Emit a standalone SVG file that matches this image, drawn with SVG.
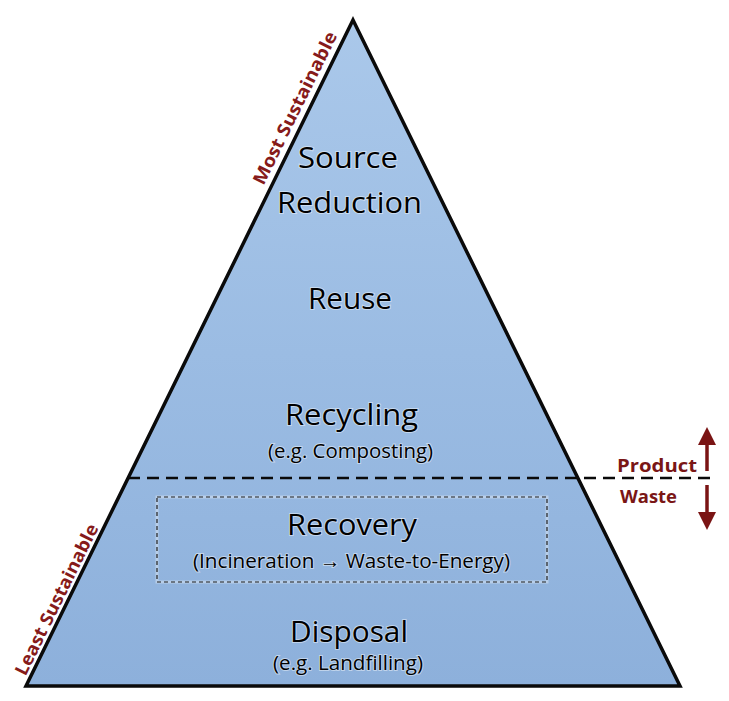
<svg xmlns="http://www.w3.org/2000/svg" width="729" height="701" viewBox="0 0 729 701">
  <defs>
    <linearGradient id="fillGrad" x1="0" y1="0" x2="0" y2="1">
      <stop offset="0" stop-color="#aac8ea"/>
      <stop offset="0.5" stop-color="#9bbce3"/>
      <stop offset="1" stop-color="#8db0db"/>
    </linearGradient>
    <style>
      .main { font-family: "Open Sans", "Noto Sans", sans-serif; font-size: 30px; fill: #000; text-anchor: middle; stroke: #ffffff; stroke-width: 2; stroke-opacity: 0.45; paint-order: stroke; }
      .sub { font-family: "Open Sans", "Noto Sans", sans-serif; font-size: 20px; fill: #000; text-anchor: middle; stroke: #ffffff; stroke-width: 2; stroke-opacity: 0.45; paint-order: stroke; }
      .side { font-family: "Open Sans", "Noto Sans", sans-serif; font-size: 18px; font-weight: bold; fill: #861b1b; text-anchor: middle; stroke: #ffffff; stroke-width: 3; stroke-opacity: 0.8; paint-order: stroke; }
      .pw { font-family: "Open Sans", "Noto Sans", sans-serif; font-size: 18px; font-weight: bold; fill: #7a1616; stroke: #ffffff; stroke-width: 3; stroke-opacity: 0.8; paint-order: stroke; }
      .arrow { stroke: #7a1414; stroke-width: 3.5; fill: none; }
      .head { fill: #7a1414; }
    </style>
  </defs>
  <rect x="0" y="0" width="729" height="701" fill="#ffffff"/>

  <g id="pyramid">
    <polygon points="353,20 680,686 26,686" fill="url(#fillGrad)" stroke="#0a0a0a" stroke-width="3.5" stroke-linejoin="miter"/>
  </g>

  <g id="divider">
    <line x1="128" y1="478" x2="714" y2="478" stroke="#0a0a0a" stroke-width="2.5" stroke-dasharray="12 7"/>
  </g>

  <g id="node-source-reduction">
    <text class="main" x="348" y="168" textLength="100" lengthAdjust="spacingAndGlyphs">Source</text>
    <text class="main" x="349.5" y="213" textLength="145" lengthAdjust="spacingAndGlyphs">Reduction</text>
  </g>

  <g id="node-reuse">
    <text class="main" x="350" y="309" textLength="84" lengthAdjust="spacingAndGlyphs">Reuse</text>
  </g>

  <g id="node-recycling">
    <text class="main" x="351.5" y="425" textLength="133" lengthAdjust="spacingAndGlyphs">Recycling</text>
    <text class="sub" x="350.5" y="458" textLength="165" lengthAdjust="spacingAndGlyphs">(e.g. Composting)</text>
  </g>

  <g id="node-recovery">
    <rect x="157" y="497" width="390" height="85" fill="none" stroke="#ffffff" stroke-opacity="0.35" stroke-width="3"/>
    <rect x="157" y="497" width="390" height="85" fill="none" stroke="#1e1e1e" stroke-width="1.2" stroke-dasharray="4 3"/>
    <text class="main" x="352" y="535" textLength="130" lengthAdjust="spacingAndGlyphs">Recovery</text>
    <text class="sub" x="351.5" y="568" textLength="317" lengthAdjust="spacingAndGlyphs">(Incineration → Waste-to-Energy)</text>
  </g>

  <g id="node-disposal">
    <text class="main" x="349" y="642" textLength="118" lengthAdjust="spacingAndGlyphs">Disposal</text>
    <text class="sub" x="348" y="670" textLength="150" lengthAdjust="spacingAndGlyphs">(e.g. Landfilling)</text>
  </g>

  <g id="label-most">
    <text class="side" transform="translate(300.6,110.7) rotate(-63.8)" x="0" y="0" textLength="168" lengthAdjust="spacingAndGlyphs">Most Sustainable</text>
  </g>

  <g id="label-least">
    <text class="side" transform="translate(62.2,602.3) rotate(-63.8)" x="0" y="0" textLength="166" lengthAdjust="spacingAndGlyphs">Least Sustainable</text>
  </g>

  <g id="label-product">
    <text class="pw" x="617" y="472" textLength="80" lengthAdjust="spacingAndGlyphs">Product</text>
  </g>

  <g id="label-waste">
    <text class="pw" x="620" y="503" textLength="57" lengthAdjust="spacingAndGlyphs">Waste</text>
  </g>

  <g id="connectors">
    <line class="arrow" x1="707" y1="471" x2="707" y2="442"/>
    <polygon class="head" points="707,427 716,445 698,445"/>
    <line class="arrow" x1="707" y1="485" x2="707" y2="514"/>
    <polygon class="head" points="707,530 716,512 698,512"/>
  </g>
</svg>
